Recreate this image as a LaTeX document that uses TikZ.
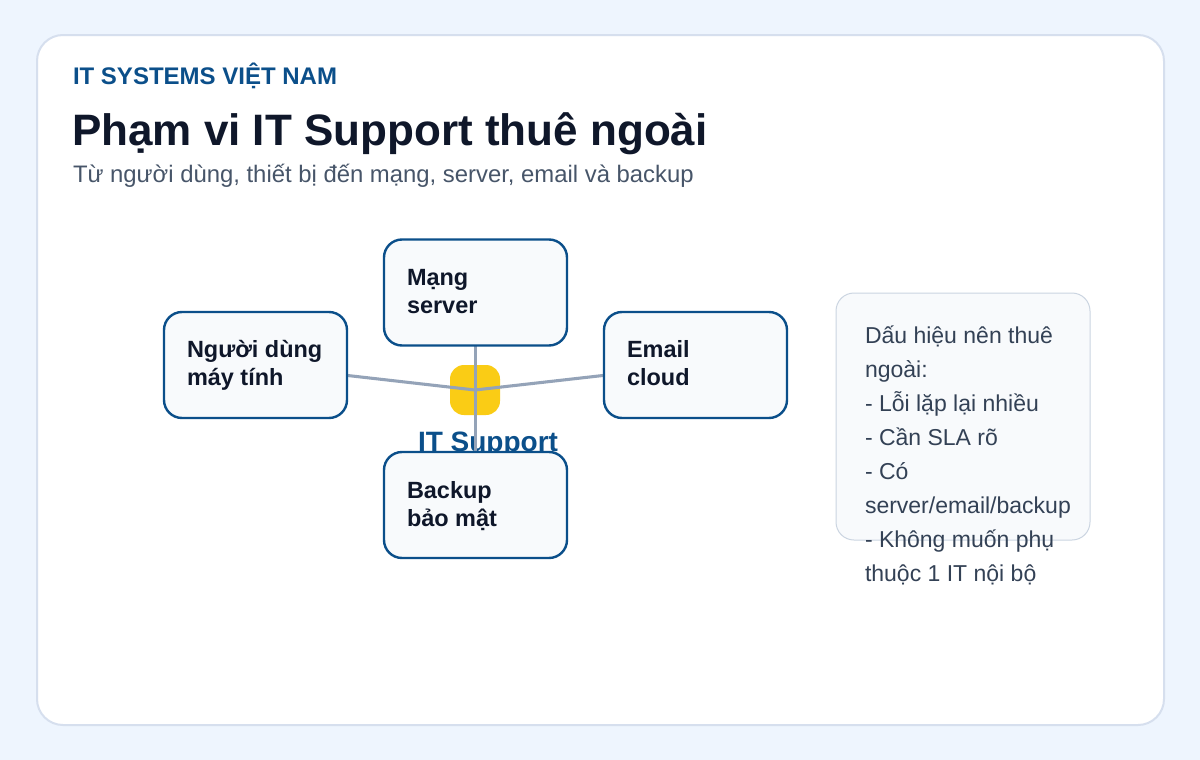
\documentclass[tikz,border=0pt]{standalone}
\usepackage{fontspec}
\setmainfont{Liberation Sans}
\usetikzlibrary{calc}
\definecolor{bgc}{HTML}{EEF5FE}
\definecolor{cardline}{HTML}{D6DFEE}
\definecolor{brandblue}{HTML}{0B4F8A}
\definecolor{darktext}{HTML}{0F172A}
\definecolor{subtext}{HTML}{475569}
\definecolor{boxfill}{HTML}{F8FAFC}
\definecolor{sideline}{HTML}{CBD5E1}
\definecolor{sidetext}{HTML}{334155}
\definecolor{connc}{HTML}{94A3B8}
\definecolor{hubc}{HTML}{FACC15}
\pgfdeclarelayer{bglayer}
\pgfdeclarelayer{midlayer}
\pgfsetlayers{bglayer,midlayer,main}
\tikzset{
  txt/.style={inner sep=0pt, outer sep=0pt, anchor=base west},
  areabox/.style={draw=brandblue, line width=1.8pt, fill=boxfill, rounded corners=13.5pt,
    minimum width=137.25pt, minimum height=79.5pt, inner sep=0pt, outer sep=0pt},
  areatext/.style={txt, align=left, text=darktext, font=\bfseries\fontsize{17.6}{21}\selectfont},
  conn/.style={draw=connc, line width=2.3pt},
  sidebox/.style={draw=sideline, line width=0.75pt, fill=boxfill, rounded corners=13.5pt,
    minimum width=190.5pt, minimum height=185.25pt, inner sep=0pt, outer sep=0pt},
}
\begin{document}
\begin{tikzpicture}[x=0.75pt,y=-0.75pt]
\useasboundingbox (0,0) rectangle (1200,760);
\begin{pgfonlayer}{bglayer}
\fill[bgc] (0,0) rectangle (1200,760);
\draw[cardline, line width=1.5pt, fill=white, rounded corners=19.5pt] (37,35) rectangle (1164,725);
\end{pgfonlayer}

\node[txt, text=brandblue, font=\bfseries\fontsize{18}{21}\selectfont] (brand) at (73,84) {IT SYSTEMS VIỆT NAM};
\node[txt, text=darktext, font=\bfseries\fontsize{33}{38}\selectfont] (title) at (72,145) {Phạm vi IT Support thuê ngoài};
\node[txt, text=subtext, font=\fontsize{17.9}{21}\selectfont] (subtitle) at (73,182) {Từ người dùng, thiết bị đến mạng, server, email và backup};

% area boxes
\node[areabox] (top) at (475.5,292.5) {};
\node[areabox] (left) at (255.5,365) {};
\node[areabox] (right) at (695.5,365) {};
\node[areabox] (bottom) at (475.5,505) {};

\begin{pgfonlayer}{midlayer}
\node[fill=hubc, rounded corners=10.5pt, minimum size=37.5pt, inner sep=0pt] (hub) at (475,390) {};
\node[inner sep=0pt, anchor=base, text=brandblue, font=\bfseries\fontsize{21}{24}\selectfont] (hublabel) at (488,451) {IT Support};
\draw[conn] (left.center) -- (hub.center) -- (right.center);
\draw[conn] (top.center) -- (bottom.center);
\end{pgfonlayer}

\node[areatext] (toptext) at ($(top.north west)+(23,74)$) {Mạng\\server};
\node[areatext] (lefttext) at ($(left.north west)+(23,73)$) {Người dùng\\máy tính};
\node[areatext] (righttext) at ($(right.north west)+(23,73)$) {Email\\cloud};
\node[areatext] (bottomtext) at ($(bottom.north west)+(23,74)$) {Backup\\bảo mật};

% side note
\node[sidebox] (side) at (963,416.5) {};
\node[txt, align=left, text=sidetext, font=\fontsize{17.25}{25.5}\selectfont] (sidetxt) at (865,581)
  {Dấu hiệu nên thuê\\ngoài:\\- Lỗi lặp lại nhiều\\- Cần SLA rõ\\- Có\\server/email/backup\\- Không muốn phụ\\thuộc 1 IT nội bộ};
\end{tikzpicture}
\end{document}
